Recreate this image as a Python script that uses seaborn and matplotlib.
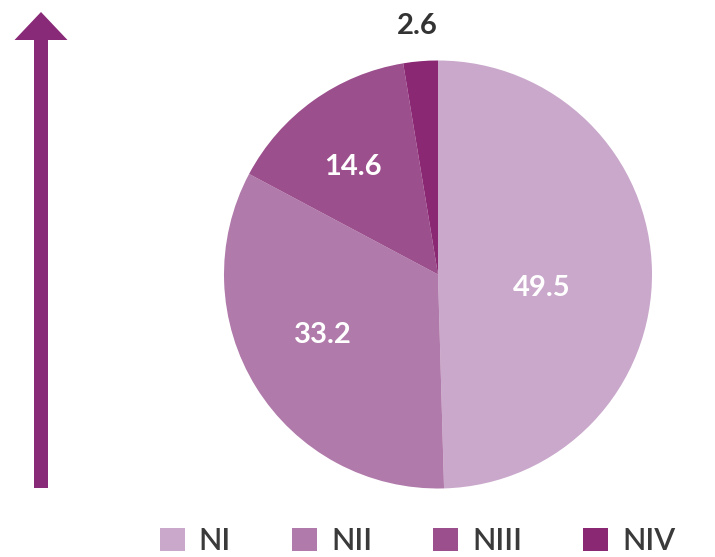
import numpy as np
import matplotlib
matplotlib.use("Agg")
import matplotlib.pyplot as plt
from matplotlib.patches import FancyArrow
import seaborn as sns

# data
stages = ["NI", "NII", "NIII", "NIV"]
shares = [49.5, 33.2, 14.6, 2.6]
labels = ["49.5", "33.2", "14.6", "2.6"]
colors = ["#C9A8CB", "#B07AAA", "#9B4F8C", "#8A2874"]

sns.set_theme(style="white")
plt.rcParams["font.family"] = ["Lato", "DejaVu Sans"]

W, H = 715, 557
fig = plt.figure(figsize=(W / 100, H / 100), dpi=100)

# overlay in pixel coordinates for the arrow
over = fig.add_axes([0, 0, 1, 1])
over.set_xlim(0, W)
over.set_ylim(H, 0)
over.axis("off")
over.add_patch(FancyArrow(41, 488, 0, -476, width=14, head_width=53,
                          head_length=28, length_includes_head=True,
                          color="#882A77", linewidth=0))

# pie axes: centre (438, 274.5), radius 214 px
cx, cy, r = 438, 274.5, 214
ax = fig.add_axes([(cx - r) / W, (H - cy - r) / H, 2 * r / W, 2 * r / H])
wedges, _ = ax.pie(shares, colors=sns.color_palette(colors), startangle=90,
                   counterclock=False, radius=1,
                   wedgeprops=dict(linewidth=0))
ax.set_xlim(-1, 1)
ax.set_ylim(-1, 1)
ax.set_aspect("equal")
ax.axis("off")

# label placement (radius fraction, angle tweak in degrees)
dist = [0.49, 0.61, 0.64, 1.165]
tweak = [-8, -4, 2.6, 0]
for w, lab, d, t, i in zip(wedges, labels, dist, tweak, range(4)):
    mid = np.deg2rad((w.theta1 + w.theta2) / 2 + t)
    outside = i == 3
    ax.text(d * np.cos(mid), d * np.sin(mid), lab, ha="center", va="center",
            fontsize=21, fontweight="bold",
            color="#333333" if outside else "white", clip_on=False)

leg = fig.legend(wedges, stages, loc="lower left",
                 bbox_to_anchor=(160 / W, 2 / H), ncol=4, frameon=False,
                 fontsize=22, handlelength=0.82, handleheight=0.82,
                 handletextpad=0.45, columnspacing=2.0,
                 borderpad=0, borderaxespad=0)
for txt in leg.get_texts():
    txt.set_color("#3a3a3a")
    txt.set_fontweight("semibold")

fig.savefig("out.png", dpi=100)
